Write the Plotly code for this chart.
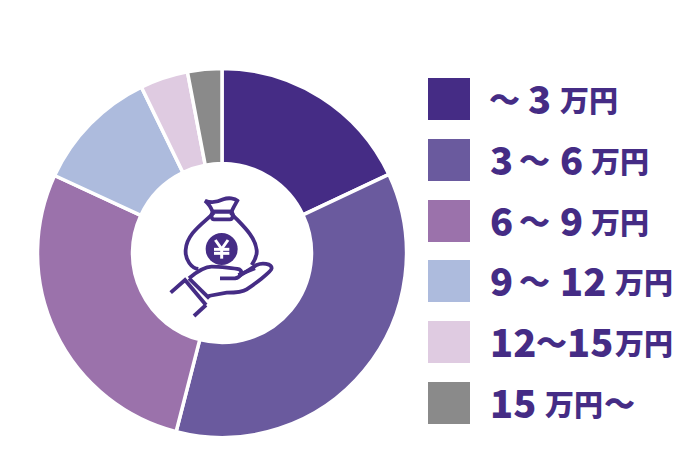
import re
import plotly.graph_objects as go

W, H = 680, 460
PAGE_OFFSET = 8
categories = ["~3万円", "3~6万円", "6~9万円", "9~12万円", "12~15万円", "15万円~"]
values = [18, 36, 27.9, 10.9, 4.2, 3]
colors = ["#452c85", "#6a5a9e", "#9b72ab", "#adbbdd", "#dfcbe1", "#8a8a8a"]
ink = "#452c85"
# each legend row: (x pixel, text, size class)
legend_rows = [
    [(488, "～", "t"), (527, "3", "b"), (559, "万円", "s")],
    [(489, "3", "b"), (518, "～", "t"), (559, "6", "b"), (590, "万円", "s")],
    [(489, "6", "b"), (518, "～", "t"), (559, "9", "b"), (590, "万円", "s")],
    [(489, "9", "b"), (518, "～", "t"), (559, "12", "b"), (614, "万円", "s")],
    [(489, "12", "b"), (535, "～", "t"), (566, "15", "b"), (614, "万円", "s")],
    [(489, "15", "b"), (544, "万円", "s"), (603, "～", "t")],
]
sizes = {"b": 38, "s": 29, "t": 31}
swatch_top = [78, 139, 200, 260, 321, 382]
swatch_size = 42
cx, cy, R = 222, 253, 184.5


def px(x):
    return (x - PAGE_OFFSET) / W


def py(y):
    return 1 - (y - PAGE_OFFSET) / H


def zoom_path(d):
    """Convert an icon path drawn in a 160px box at (140,170), 3x scale, to paper coords."""
    parts = re.findall(r"[MLCZ]|-?\d+\.?\d*", d)
    out, is_x = [], True
    for p in parts:
        if p in "MLCZ":
            out.append(p)
            is_x = True
        else:
            v = float(p) / 3
            out.append(f"{px(140 + v):.5f}" if is_x else f"{py(170 + v):.5f}")
            is_x = not is_x
    return " ".join(out)


fig = go.Figure(
    go.Pie(
        labels=categories,
        values=values,
        sort=False,
        direction="clockwise",
        rotation=0,
        hole=0.485,
        marker=dict(colors=colors, line=dict(color="white", width=3.5)),
        textinfo="none",
        hoverinfo="label+percent",
        domain=dict(x=[px(cx - R), px(cx + R)], y=[py(cy + R), py(cy - R)]),
        showlegend=False,
    )
)

shapes = []
annotations = []
for top, color in zip(swatch_top, colors):
    shapes.append(dict(type="rect", xref="paper", yref="paper", x0=px(428), x1=px(428 + swatch_size),
                       y0=py(top), y1=py(top + swatch_size), fillcolor=color, line=dict(width=0)))
for top, row in zip(swatch_top, legend_rows):
    for x, text, kind in row:
        annotations.append(dict(
            xref="paper", yref="paper", x=px(x), y=py(top + 19 + (2 if kind == "s" else 0)),
            text=text, showarrow=False, xanchor="left", yanchor="middle",
            align="left", borderpad=0,
            font=dict(family="Noto Sans CJK JP", size=sizes[kind], color=ink, weight=900),
        ))

icon_lines = [
    "M 222 128 C 190 160 140 190 137 240 C 135 270 155 295 175 297",
    "M 272 128 C 300 160 345 195 350 240 C 352 255 345 270 335 285",
    "M 218 125 C 212 110 205 100 195 92 C 215 100 235 95 250 88 C 265 82 285 85 292 92 C 285 105 278 115 275 125 Z",
    "M 218 125 L 275 125 C 282 135 278 148 270 148 L 222 148 C 214 148 212 135 218 125 Z",
    "M 147 325 C 165 310 190 290 215 290 C 240 290 285 295 298 298 C 310 305 302 322 285 325 L 240 325",
    "M 298 318 L 350 285 C 365 278 395 280 395 295 C 395 305 340 345 320 358 C 310 365 280 368 260 368 L 205 378",
    "M 295 315 L 345 295",
    "M 92 368 L 135 330 L 198 405",
    "M 147 325 L 208 385",
    "M 162 438 L 198 405",
]
for d in icon_lines:
    shapes.append(dict(type="path", xref="paper", yref="paper", path=zoom_path(d),
                       line=dict(color=ink, width=3.8), fillcolor="rgba(0,0,0,0)"))
shapes.append(dict(type="circle", xref="paper", yref="paper",
                   x0=px(140 + 197 / 3), x1=px(140 + 293 / 3),
                   y0=py(170 + 285 / 3), y1=py(170 + 189 / 3),
                   fillcolor=ink, line=dict(width=0)))
for d in ["M 226 210 L 245 237 L 264 210", "M 245 237 L 245 266", "M 222 238 L 268 238", "M 222 250 L 268 250"]:
    shapes.append(dict(type="path", xref="paper", yref="paper", path=zoom_path(d),
                       line=dict(color="white", width=3), fillcolor="rgba(0,0,0,0)"))

fig.update_layout(
    width=W, height=H, margin=dict(l=0, r=0, t=0, b=0),
    paper_bgcolor="white", plot_bgcolor="white",
    shapes=shapes, annotations=annotations,
)
fig.write_html("out.html", config={"displayModeBar": False})
